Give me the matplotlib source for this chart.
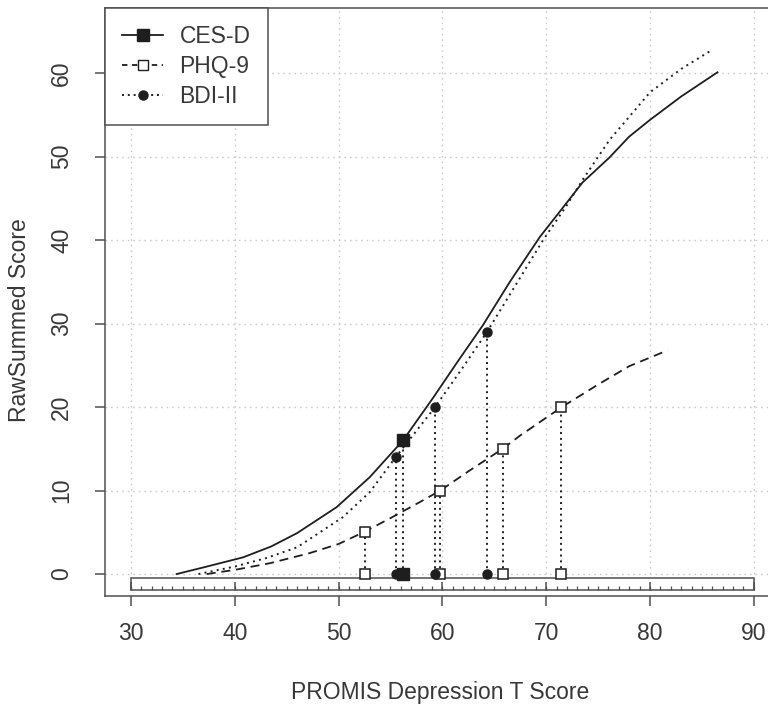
import matplotlib.pyplot as plt
import numpy as np
from matplotlib.patches import Rectangle

plt.rcParams['font.family'] = ['Liberation Sans', 'DejaVu Sans']

# curve data
cesd_x = [34.4, 37.0, 40.8, 43.5, 46.0, 49.8, 53.0, 56.2, 59.1, 61.5, 63.9, 66.5, 69.4, 71.3, 73.5, 76.1, 78.0, 80.0, 83.0, 86.5]
cesd_y = [0.0, 0.8, 2.0, 3.3, 4.9, 8.0, 11.6, 16.0, 21.1, 25.5, 29.8, 35.0, 40.4, 43.4, 46.9, 49.9, 52.4, 54.4, 57.2, 60.1]

bdi_x = [36.5, 40.0, 43.0, 46.0, 50.4, 53.0, 55.5, 59.3, 62.0, 64.3, 67.0, 69.7, 72.0, 73.5, 76.1, 80.0, 83.0, 86.0]
bdi_y = [0.0, 0.9, 1.9, 3.2, 6.8, 9.8, 14.0, 20.0, 24.8, 29.0, 34.5, 40.0, 44.2, 47.2, 52.0, 57.7, 60.5, 62.8]

phq_x = [37.3, 40.0, 43.4, 47.2, 50.0, 52.4, 55.0, 57.8, 59.8, 62.5, 65.8, 67.5, 71.5, 75.0, 78.0, 81.7]
phq_y = [0.0, 0.5, 1.3, 2.5, 3.6, 5.0, 6.7, 8.6, 10.0, 12.3, 15.0, 16.6, 20.0, 22.7, 24.9, 26.8]

# marked points
cesd_pts_x = [56.2]
cesd_pts_y = [16]
bdi_pts_x = [55.5, 59.3, 64.3]
bdi_pts_y = [14, 20, 29]
phq_pts_x = [52.5, 59.8, 65.8, 71.4]
phq_pts_y = [5, 10, 15, 20]

xticks = [30, 40, 50, 60, 70, 80, 90]
yticks = [0, 10, 20, 30, 40, 50, 60]

dark = '#1e1e1e'
frame = '#505050'
txt = '#383838'

fig = plt.figure(figsize=(7.68, 7.11), dpi=100)
ax = fig.add_axes([105 / 768, 1 - 596 / 711, 670 / 768, 588 / 711])
ax.set_xlim(27.5, 92.04)
ax.set_ylim(-2.63, 67.8)

# grid
for gx in xticks:
    ax.axvline(gx, color='#cccccc', lw=1, ls=(0, (1.2, 2.8)), zorder=0)
for gy in yticks:
    ax.axhline(gy, color='#cccccc', lw=1, ls=(0, (1.2, 2.8)), zorder=0)

# ruler along the bottom
ax.add_patch(Rectangle((30, -1.92), 60, 1.44, facecolor='white', edgecolor=frame, lw=1.1, zorder=3))
minor = np.arange(30, 91, 1)
ax.vlines(minor, -1.92, -1.44, color=frame, lw=0.9, zorder=4)
ax.vlines(xticks, -1.92, -0.96, color=frame, lw=1.1, zorder=4)

# curves
ax.plot(cesd_x, cesd_y, color=dark, lw=1.3, zorder=5)
ax.plot(phq_x, phq_y, color=dark, lw=1.3, dashes=(5, 3.2), zorder=5)
ax.plot(bdi_x, bdi_y, color=dark, lw=1.4, dashes=(1.0, 2.2), zorder=5)

# drop lines
ax.vlines(cesd_pts_x + bdi_pts_x + phq_pts_x, 0, cesd_pts_y + bdi_pts_y + phq_pts_y,
          color=dark, lw=1.4, linestyles=[(0, (1.0, 2.0))], zorder=4)

# markers on curves and at zero
ax.plot(phq_pts_x, phq_pts_y, 's', ms=7.5, mfc='white', mec=dark, mew=1.1, zorder=6)
ax.plot(phq_pts_x, [0] * len(phq_pts_x), 's', ms=7.5, mfc='white', mec=dark, mew=1.1, zorder=6)
ax.plot(bdi_pts_x, bdi_pts_y, 'o', ms=6.5, color=dark, zorder=6)
ax.plot(bdi_pts_x, [0] * len(bdi_pts_x), 'o', ms=6.5, color=dark, zorder=6)
ax.plot(cesd_pts_x, cesd_pts_y, 's', ms=8, color=dark, zorder=6)
ax.plot(cesd_pts_x, [0] * len(cesd_pts_x), 's', ms=8, color=dark, zorder=6)

# legend
h1, = ax.plot([], [], color=dark, lw=1.3, marker='s', ms=8)
h2, = ax.plot([], [], color=dark, lw=1.3, dashes=(3, 2.5), marker='s', ms=7.5, mfc='white', mec=dark)
h3, = ax.plot([], [], color=dark, lw=1.4, dashes=(1.0, 2.0), marker='o', ms=6.5)
leg = ax.legend([h1, h2, h3], ['CES-D', 'PHQ-9', 'BDI-II'], loc='upper left', fontsize=16.5,
                frameon=True, fancybox=False, borderaxespad=0, borderpad=0.75,
                handlelength=1.8, handletextpad=0.7, labelspacing=0.3, numpoints=1)
leg.get_frame().set_edgecolor(frame)
leg.get_frame().set_linewidth(1.1)
leg.get_frame().set_facecolor('white')
leg.get_frame().set_alpha(1)
leg.set_zorder(10)
for t in leg.get_texts():
    t.set_color(txt)

# axes frame and ticks
for s in ax.spines.values():
    s.set_color(frame)
    s.set_linewidth(1.1)
ax.set_xticks(xticks)
ax.set_yticks(yticks)
ax.tick_params(axis='both', direction='out', length=7, width=1.1, color=frame,
               labelsize=16.5, labelcolor=txt)
ax.tick_params(axis='x', pad=12)
ax.tick_params(axis='y', pad=16)
for lab in ax.get_yticklabels():
    lab.set_rotation(90)
    lab.set_va('center')

fig.text(20 / 768, 1 - 320 / 711, 'RawSummed Score', rotation=90, ha='center', va='center',
         fontsize=16.5, color=txt)
fig.text(440 / 768, 1 - 693 / 711, 'PROMIS Depression T Score', ha='center', va='center',
         fontsize=16.5, color=txt)

fig.savefig('out.png', dpi=100)
